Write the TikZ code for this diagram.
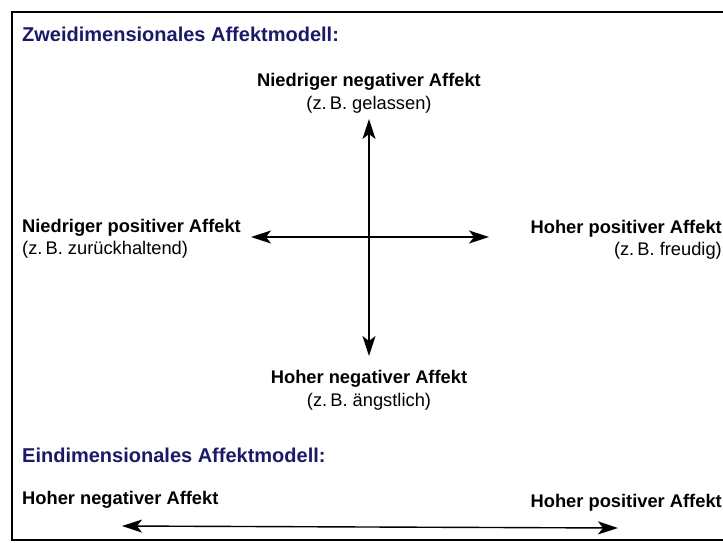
\documentclass[tikz,border=0pt]{standalone}
\usepackage{fontspec}
\setmainfont{Liberation Sans}
\usetikzlibrary{arrows.meta}
\definecolor{headblue}{RGB}{28,26,104}
\begin{document}
\begin{tikzpicture}[x=1pt,y=-1pt,
  heading/.style={inner sep=0pt,anchor=base west,text=headblue,font=\fontsize{20}{24}\selectfont\bfseries},
  lbl/.style={inner sep=0pt,font=\fontsize{18.3}{22}\selectfont\bfseries},
  ex/.style={inner sep=0pt,font=\fontsize{18.3}{22}\selectfont},
  axis/.style={line width=1.4pt,{Stealth[length=20pt,width=13pt,inset=5pt]}-{Stealth[length=20pt,width=13pt,inset=5pt]}},
  frame/.style={line width=1.4pt}]
\useasboundingbox (0,0) rectangle (723,542);
\fill[white] (0,0) rectangle (723,542);

% open frame: top, left and bottom edges
\draw[frame] (723,12) -- (12,12) -- (12,540) -- (723,540);

% two-dimensional model
\node[heading] (h2) at (22,41) {Zweidimensionales Affektmodell:};

\node[lbl,anchor=base] (nna) at (369,86) {Niedriger negativer Affekt};
\node[ex,anchor=base] (nnax) at (369,109) {(z.\,B. gelassen)};

\node[lbl,anchor=base] (hna) at (369,383) {Hoher negativer Affekt};
\node[ex,anchor=base] (hnax) at (369,406) {(z.\,B. ängstlich)};

\node[lbl,anchor=base west] (npa) at (22,232) {Niedriger positiver Affekt};
\node[ex,anchor=base west] (npax) at (22,254) {(z.\,B. zurückhaltend)};

\node[lbl,anchor=base east] (hpa) at (722,233) {Hoher positiver Affekt};
\node[ex,anchor=base east] (hpax) at (722,255) {(z.\,B. freudig)};

\coordinate (vtop) at (369,119);
\coordinate (vbot) at (369,356);
\coordinate (hleft) at (251,237);
\coordinate (hright) at (489,237);
\draw[axis] (vtop) -- (vbot);
\draw[axis] (hleft) -- (hright);

% one-dimensional model
\node[heading] (h1) at (22,462) {Eindimensionales Affektmodell:};
\node[lbl,anchor=base west] (bneg) at (22,504) {Hoher negativer Affekt};
\node[lbl,anchor=base east] (bpos) at (722,507) {Hoher positiver Affekt};

\coordinate (bleft) at (122,526);
\coordinate (bright) at (618,528);
\draw[axis] (bleft) -- (bright);
\end{tikzpicture}
\end{document}
